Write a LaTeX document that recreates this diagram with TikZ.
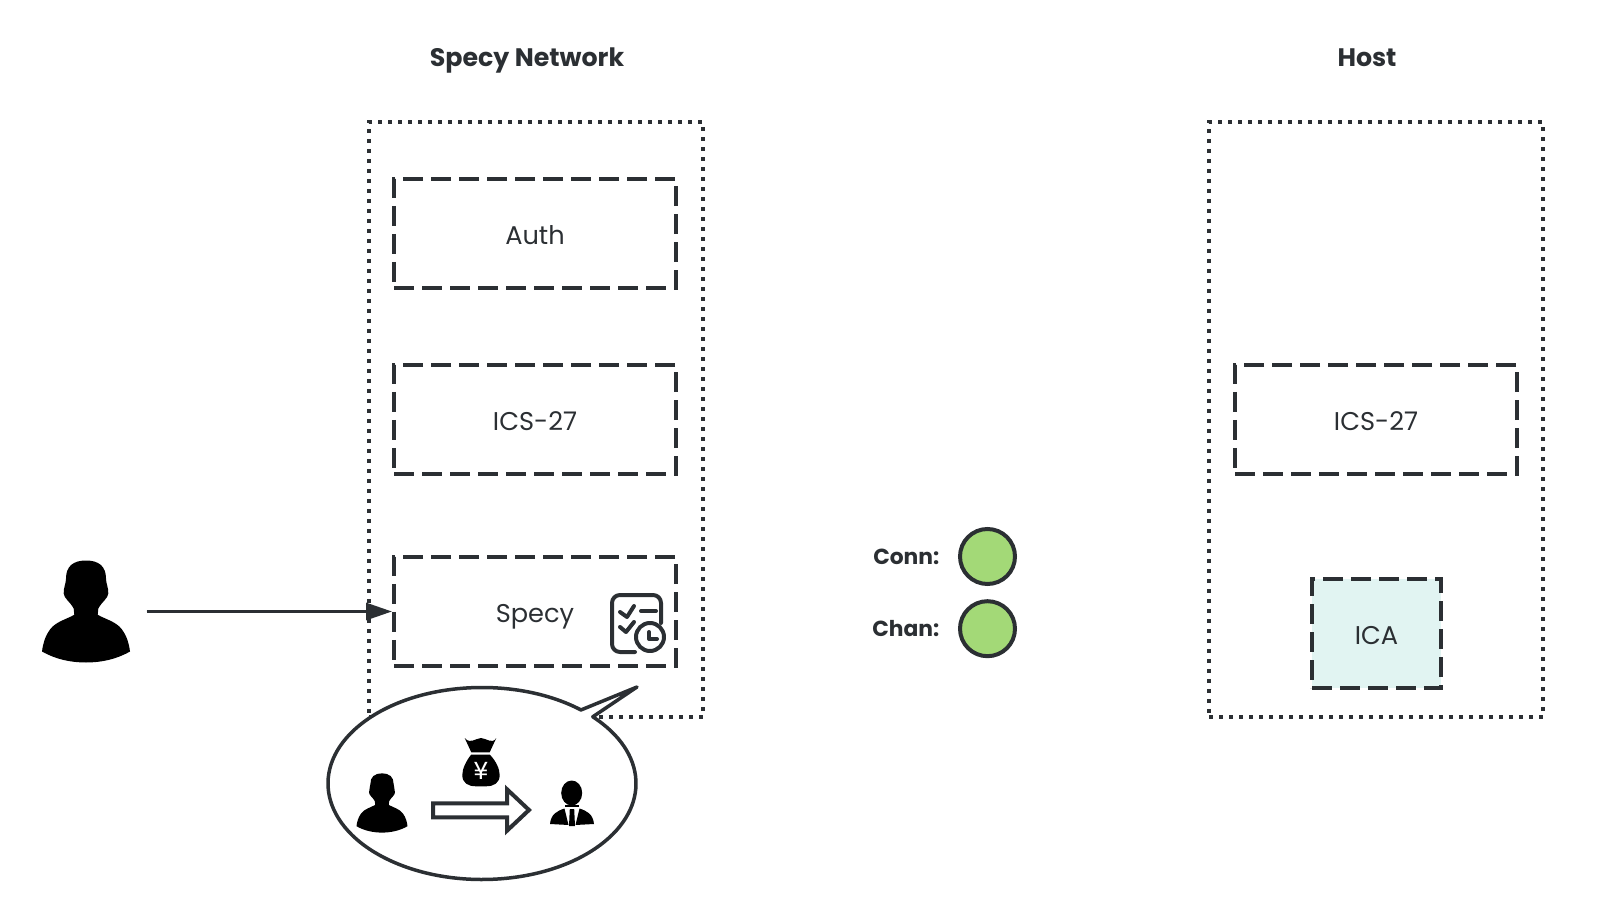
\documentclass[tikz,border=0pt]{standalone}
\usepackage{fontspec}
\setmainfont{Poppins}
\usetikzlibrary{arrows.meta,positioning}
\definecolor{inkc}{HTML}{2B2F33}
\definecolor{connc}{HTML}{A3D977}
\definecolor{icac}{HTML}{E1F4F2}
\tikzset{
    person/.pic={
        \fill[black] (0,.51) .. controls (.13,.51) and (.2,.45) .. (.2,.33) .. controls (.2,.28) and (.225,.24) .. (.223,.18)
            .. controls (.22,.13) and (.16,.10) .. (.123,.03) -- (.117,-.033) .. controls (.2,-.08) and (.3,-.1) .. (.36,-.18)
            .. controls (.41,-.25) and (.43,-.32) .. (.44,-.4) .. controls (.3,-.48) and (.15,-.51) .. (0,-.51)
            .. controls (-.15,-.51) and (-.3,-.48) .. (-.44,-.4) .. controls (-.43,-.32) and (-.41,-.25) .. (-.36,-.18)
            .. controls (-.3,-.1) and (-.2,-.08) .. (-.117,-.033) -- (-.123,.03) .. controls (-.16,.10) and (-.22,.13) .. (-.223,.18)
            .. controls (-.225,.24) and (-.2,.28) .. (-.2,.33) .. controls (-.2,.45) and (-.13,.51) .. (0,.51) -- cycle;
    }
}
\begin{document}
\begin{tikzpicture}[
    outerbox/.style={draw=inkc, line width=.04cm, dash pattern=on .04cm off .06cm, minimum width=3.34cm, minimum height=5.95cm},
    layerbox/.style={draw=inkc, line width=.04cm, dash pattern=on .2cm off .08cm, minimum width=2.82cm, minimum height=1.09cm, text=inkc, text height=.72em, text depth=.12em, font=\fontsize{7.3pt}{9pt}\selectfont},
    title/.style={text=inkc, text height=.72em, text depth=.12em, font=\fontsize{7.2pt}{9pt}\selectfont\bfseries},
    statelbl/.style={text=inkc, inner sep=0pt, font=\fontsize{6.2pt}{8pt}\selectfont\bfseries},
    state/.style={draw=inkc, line width=.04cm, circle, fill=connc, minimum size=.55cm, inner sep=0pt},
    arrow/.style={-{Triangle[length=.26cm,width=.17cm]}, line width=.03cm, draw=inkc, fill=inkc},
    iconline/.style={draw=inkc, line width=.04cm, line cap=round, line join=round}
]
\useasboundingbox (0,0) rectangle (16.16,9);

\node[title] (nettitle) at (5.27,8.44) {Specy Network};
\node[title] (hosttitle) at (13.67,8.44) {Host};

\node[outerbox] (network) at (5.36,4.805) {};
\node[layerbox] (auth) at (5.35,6.665) {Auth};
\node[layerbox] (ics) at (5.35,4.805) {ICS-27};
\node[layerbox] (specy) at (5.35,2.885) {Specy};

\node[outerbox] (host) at (13.76,4.805) {};
\node[layerbox] (hostics) at (13.76,4.805) {ICS-27};
\node[layerbox, minimum width=1.29cm, fill=icac] (ica) at (13.765,2.665) {ICA};

\node[state] (conn) at (9.875,3.435) {};
\node[state] (chan) at (9.875,2.713) {};
\node[statelbl, left=.18cm of conn] (connlbl) {Conn:};
\node[statelbl, left=.18cm of chan] (chanlbl) {Chan:};

% user and the arrow into specy
\node[minimum width=1.2cm, minimum height=1.02cm, inner sep=0pt] (user) at (.86,2.885) {};
\pic at (user) {person};
\draw[arrow] (user.east) -- (specy.west);

% schedule icon
\draw[iconline] (6.35,2.48) -- (6.20,2.48) arc[start angle=270,end angle=180,radius=.08] -- (6.12,2.97)
    arc[start angle=180,end angle=90,radius=.08] -- (6.53,3.05) arc[start angle=90,end angle=0,radius=.08] -- (6.61,2.77);
\draw[iconline] (6.20,2.88) -- (6.27,2.83) -- (6.34,2.94);
\draw[iconline] (6.20,2.73) -- (6.26,2.68) -- (6.34,2.78);
\draw[iconline] (6.41,2.89) -- (6.56,2.89);
\draw[iconline] (6.50,2.63) circle (.14);
\draw[iconline] (6.49,2.68) -- (6.49,2.61) -- (6.57,2.61);

% speech bubble
\coordinate (bubble) at (4.82,1.165);
\coordinate (bubbletip) at (6.37,2.13);
\draw[draw=inkc, line width=.035cm, fill=white, line join=round] (bubble) ++(50:1.54 and .96)
    arc[start angle=50,end angle=404,x radius=1.54,y radius=.96] -- (bubbletip) -- cycle;
\pic[scale=.58] at (3.82,.97) {person};

% money bag
\begin{scope}[shift={(4.81,1.37)}]
\fill[black] (-.163,.25) .. controls (-.13,.21) and (-.1,.22) .. (-.08,.225) .. controls (-.05,.23) and (-.03,.25) .. (0,.25)
    .. controls (.03,.25) and (.05,.23) .. (.08,.225) .. controls (.1,.22) and (.13,.21) .. (.153,.25) -- (.087,.107) -- (-.097,.107) -- cycle;
\fill[black] (-.097,.085) -- (.087,.085) .. controls (.15,.02) and (.187,-.06) .. (.187,-.12)
    .. controls (.187,-.2) and (.13,-.233) .. (.05,-.233) -- (-.05,-.233) .. controls (-.13,-.233) and (-.187,-.2) .. (-.187,-.12)
    .. controls (-.187,-.06) and (-.15,.02) .. (-.097,.085) -- cycle;
\node[text=white, inner sep=0pt, font=\fontsize{7pt}{9pt}\selectfont] (yen) at (0,-.083) {¥};
\end{scope}

% hollow arrow
\draw[iconline, line cap=butt, line join=miter] (4.33,.967) -- (5.07,.967) -- (5.07,1.107) -- (5.29,.90) -- (5.07,.693) -- (5.07,.827) -- (4.33,.827) -- cycle;

% manager
\begin{scope}[shift={(5.72,.96)}]
\fill[black] (-.003,.11) ellipse (.105 and .125);
\fill[black] (-.22,-.2) .. controls (-.21,-.1) and (-.15,-.07) .. (-.075,-.045) -- (-.035,-.21) -- cycle;
\fill[black] (.22,-.2) .. controls (.21,-.1) and (.15,-.07) .. (.075,-.045) -- (.035,-.21) -- cycle;
\fill[black] (-.022,-.05) -- (.022,-.05) -- (.03,-.22) -- (-.03,-.22) -- cycle;
\fill[black] (-.07,-.025) rectangle (.07,-.01);
\end{scope}
\end{tikzpicture}
\end{document}
